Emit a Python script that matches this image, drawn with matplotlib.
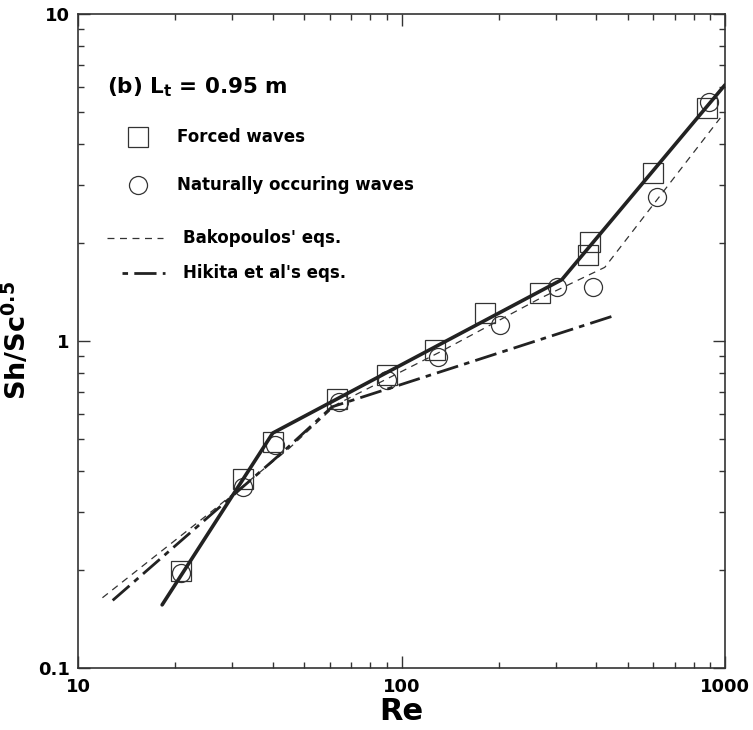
import matplotlib
matplotlib.use('Agg')
import matplotlib.pyplot as plt
from matplotlib.ticker import FixedLocator, FixedFormatter, LogLocator, NullFormatter

plt.rcParams['font.family'] = ['DejaVu Sans']
plt.rcParams['font.weight'] = 'bold'
plt.rcParams['mathtext.fontset'] = 'custom'
plt.rcParams['mathtext.rm'] = 'DejaVu Sans:bold'
plt.rcParams['mathtext.bf'] = 'DejaVu Sans:bold'
plt.rcParams['mathtext.default'] = 'bf'
plt.rcParams['lines.scale_dashes'] = False

# ---------------------------------------------------------
# DATA
# ---------------------------------------------------------
# forced waves (squares)
re_forced = [20.8, 32.4, 40.1, 63.2, 90.2, 127, 181, 268, 377, 383, 598, 879]
sh_forced = [0.198, 0.378, 0.49, 0.665, 0.787, 0.939, 1.22, 1.40, 1.83, 2.01, 3.27, 5.16]

# naturally occuring waves (circles)
re_natural = [20.8, 32.4, 40.6, 64.0, 90, 130, 201, 303, 391, 616, 890]
sh_natural = [0.195, 0.357, 0.481, 0.65, 0.76, 0.893, 1.12, 1.46, 1.46, 2.76, 5.38]

# fitted correlation (thick solid)
re_fit = [18.2, 40, 313, 1000]
sh_fit = [0.156, 0.523, 1.54, 6.07]

# Bakopoulos' eqs. (thin dashed)
re_bako = [11.9, 26.2, 45, 63, 130, 268, 425, 967]
sh_bako = [0.164, 0.304, 0.47, 0.64, 0.92, 1.35, 1.68, 4.81]

# Hikita et al's eqs. (long dash)
re_hik = [12.8, 43, 61, 460]
sh_hik = [0.161, 0.458, 0.629, 1.20]

# ---------------------------------------------------------
# FIGURE
# ---------------------------------------------------------
fig = plt.figure(figsize=(7.53, 7.30), dpi=100)
ax = fig.add_axes([78 / 753, 62 / 730, 647 / 753, 654 / 730])

ax.plot(re_forced, sh_forced, ls='none', marker='s', ms=14, mfc='none',
        mec='#333333', mew=0.9, zorder=2)
ax.plot(re_natural, sh_natural, ls='none', marker='o', ms=13, mfc='none',
        mec='#333333', mew=0.9, zorder=2)

ax.plot(re_bako, sh_bako, color='#333333', lw=0.9, dashes=(5, 4), zorder=3)
ax.plot(re_hik, sh_hik, color='#222222', lw=2.0, dashes=(16, 4.5, 4, 4.5), zorder=3)
ax.plot(re_fit, sh_fit, color='#222222', lw=2.6, solid_capstyle='round', zorder=4)

ax.set_xscale('log')
ax.set_yscale('log')
ax.set_xlim(10, 1000)
ax.set_ylim(0.1, 10)

ax.xaxis.set_major_locator(FixedLocator([10, 100, 1000]))
ax.xaxis.set_major_formatter(FixedFormatter(['10', '100', '1000']))
ax.yaxis.set_major_locator(FixedLocator([0.1, 1, 10]))
ax.yaxis.set_major_formatter(FixedFormatter(['0.1', '1', '10']))
ax.xaxis.set_minor_locator(LogLocator(base=10, subs=range(2, 10)))
ax.yaxis.set_minor_locator(LogLocator(base=10, subs=range(2, 10)))
ax.xaxis.set_minor_formatter(NullFormatter())
ax.yaxis.set_minor_formatter(NullFormatter())

ax.tick_params(which='both', direction='in', top=True, right=True, width=1.0,
               color='#333333')
ax.tick_params(which='major', length=8.5, labelsize=13, pad=6)
ax.tick_params(which='minor', length=4.5)
ax.tick_params(axis='x', which='major', pad=7)
for sp in ax.spines.values():
    sp.set_linewidth(1.2)
    sp.set_color('#333333')

ax.set_xlabel('Re', fontsize=22, fontweight='bold', labelpad=1)
ax.set_ylabel(r'Sh/Sc$^{0.5}$', fontsize=19.5, fontweight='bold', labelpad=4)

# legend drawn by hand, as in the original
tr = ax.transAxes
ax.text(0.045, 0.888, r'(b) L$_{\mathrm{t}}$ = 0.95 m', transform=tr,
        fontsize=15.5, fontweight='bold', va='center', ha='left')
ax.plot([0.0927], [0.812], transform=tr, marker='s', ms=14, mfc='none',
        mec='#333333', mew=0.9, ls='none')
ax.text(0.153, 0.812, 'Forced waves', transform=tr, fontsize=12,
        fontweight='bold', va='center', ha='left')
ax.plot([0.0927], [0.7385], transform=tr, marker='o', ms=13, mfc='none',
        mec='#333333', mew=0.9, ls='none')
ax.text(0.153, 0.7385, 'Naturally occuring waves', transform=tr, fontsize=12,
        fontweight='bold', va='center', ha='left')
ax.plot([0.0448, 0.1314], [0.6575, 0.6575], transform=tr, color='#333333',
        lw=0.9, dashes=(5, 4))
ax.text(0.162, 0.6575, "Bakopoulos' eqs.", transform=tr, fontsize=12,
        fontweight='bold', va='center', ha='left')
ax.plot([0.068, 0.1345], [0.604, 0.604], transform=tr, color='#222222',
        lw=2.0, dashes=(4, 4.5, 16, 4.5))
ax.text(0.162, 0.604, "Hikita et al's eqs.", transform=tr, fontsize=12,
        fontweight='bold', va='center', ha='left')

fig.savefig('out.png', dpi=100)
